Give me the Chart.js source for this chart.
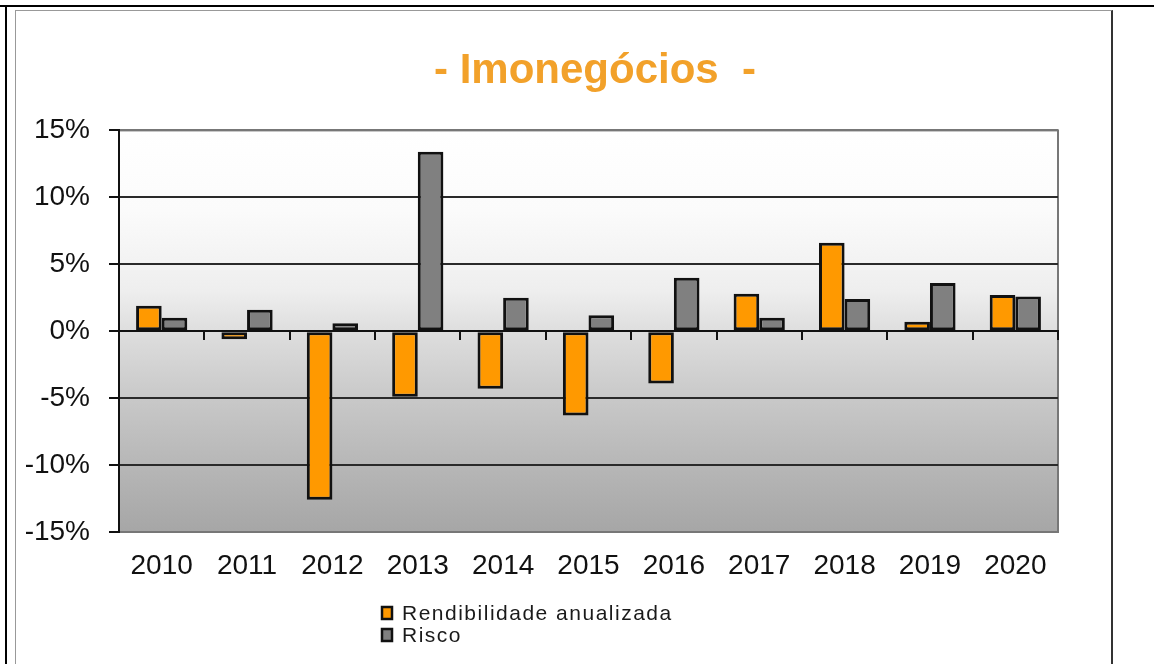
<!DOCTYPE html>
<html>
<head>
<meta charset="utf-8">
<script src="https://cdn.jsdelivr.net/npm/chart.js@4"></script>
<style>
  body { margin: 0; width: 1154px; height: 664px; overflow: hidden; background: #fff; position: relative; }
  .line { position: absolute; background: #000; }
  #frame { position: absolute; left: 15px; top: 10px; width: 1095px; height: 700px;
           border-left: 1px solid #999; border-top: 1px solid #999; border-right: 2px solid #333; }
  #wrap { position: absolute; left: 17px; top: 12px; width: 1156px; height: 652px; }
</style>
</head>
<body>
<div class="line" style="left:0;top:5px;width:1154px;height:2px"></div>
<div class="line" style="left:5px;top:5px;width:2px;height:659px"></div>
<div id="frame"></div>
<div id="wrap"><canvas id="chart"></canvas></div>
<script>
const years = ['2010', '2011', '2012', '2013', '2014', '2015', '2016', '2017', '2018', '2019', '2020'];
const rendibilidade = [1.9, -0.6, -12.6, -4.9, -4.3, -6.3, -3.9, 2.8, 6.6, 0.7, 2.7];
const risco = [1.0, 1.6, 0.6, 13.4, 2.5, 1.2, 4.0, 1.0, 2.4, 3.6, 2.6];
const yTickValues = [-15, -10, -5, 0, 5, 10, 15];
const seriesNames = ['Rendibilidade anualizada', 'Risco'];

const FONT = "'Liberation Sans', Arial, sans-serif";
Chart.defaults.font.family = FONT;

// gradient plot background, gray frame and the stacked legend under the axis
const excelLook = {
  id: 'excelLook',
  beforeDraw(chart) {
    const { ctx, chartArea: a } = chart;
    const g = ctx.createLinearGradient(0, a.top, 0, a.bottom);
    g.addColorStop(0, '#ffffff');
    g.addColorStop(0.2, '#fbfbfb');
    g.addColorStop(0.4, '#eeeeee');
    g.addColorStop(0.5, '#dedede');
    g.addColorStop(0.67, '#c8c8c8');
    g.addColorStop(0.83, '#b7b7b7');
    g.addColorStop(1, '#a6a6a6');
    ctx.save();
    ctx.fillStyle = g;
    ctx.fillRect(a.left, a.top, a.width, a.height);
    ctx.strokeStyle = '#777';
    ctx.lineWidth = 2;
    ctx.strokeRect(a.left, a.top, a.width, a.height);
    ctx.restore();
  },
  afterDraw(chart) {
    const { ctx } = chart;
    ctx.save();
    ctx.font = '21px ' + FONT;
    ctx.letterSpacing = '1.5px';
    ctx.textBaseline = 'middle';
    chart.data.datasets.forEach((ds, i) => {
      const y = 601 + i * 22;
      ctx.fillStyle = ds.backgroundColor;
      ctx.fillRect(365, y - 6, 10, 12);
      ctx.strokeStyle = '#111';
      ctx.lineWidth = 2.5;
      ctx.strokeRect(365, y - 6, 10, 12);
      ctx.fillStyle = '#1a1a1a';
      ctx.fillText(ds.label, 385, y + 1);
    });
    ctx.restore();
  }
};

new Chart(document.getElementById('chart'), {
  type: 'bar',
  data: {
    labels: years,
    datasets: [
      { label: seriesNames[0], data: rendibilidade, backgroundColor: '#ff9900' },
      { label: seriesNames[1], data: risco, backgroundColor: '#808080' },
    ],
  },
  options: {
    responsive: true,
    maintainAspectRatio: false,
    animation: false,
    datasets: {
      bar: {
        categoryPercentage: 0.6,
        barPercentage: 1,
        borderWidth: 3,
        borderColor: '#111',
        borderSkipped: false,
      },
    },
    plugins: {
      legend: { display: false },
      tooltip: { enabled: false },
      title: {
        display: true,
        text: '- Imonegócios  -',
        color: '#f2a12a',
        font: { size: 42, weight: 'bold' },
        padding: { top: 34, bottom: 34 },
      },
    },
    scales: {
      x: {
        offset: true,
        grid: { display: false, drawTicks: false },
        border: { display: false },
        ticks: { padding: 17, color: '#111', font: { size: 28 } },
        afterFit: s => { s.height = 132; },
      },
      x2: {
        type: 'category',
        position: { y: 0 },
        offset: true,
        grid: { offset: true, drawOnChartArea: false, drawTicks: true, tickLength: 8, tickColor: '#111', lineWidth: 2 },
        border: { color: '#111', width: 2 },
        ticks: { display: false },
        afterFit: s => { s.height = 0; },
      },
      y: {
        min: -15,
        max: 15,
        afterBuildTicks: s => { s.ticks = yTickValues.map(v => ({ value: v })); },
        afterFit: s => { s.width = 102; },
        grid: {
          color: c => (c.tick && Math.abs(c.tick.value) === 15) ? '#777' : '#2a2a2a',
          lineWidth: 2,
          tickLength: 10,
          tickColor: '#111',
        },
        border: { color: '#111', width: 2 },
        ticks: { padding: 19, color: '#111', font: { size: 28 }, callback: v => v + '%' },
      },
      // empty right-hand margin so the title centres over the plot like the original
      yRight: {
        position: 'right',
        grid: { display: false, drawTicks: false },
        border: { display: false },
        ticks: { display: false },
        afterFit: s => { s.width = 115; },
      },
    },
  },
  plugins: [excelLook],
});
</script>
</body>
</html>
